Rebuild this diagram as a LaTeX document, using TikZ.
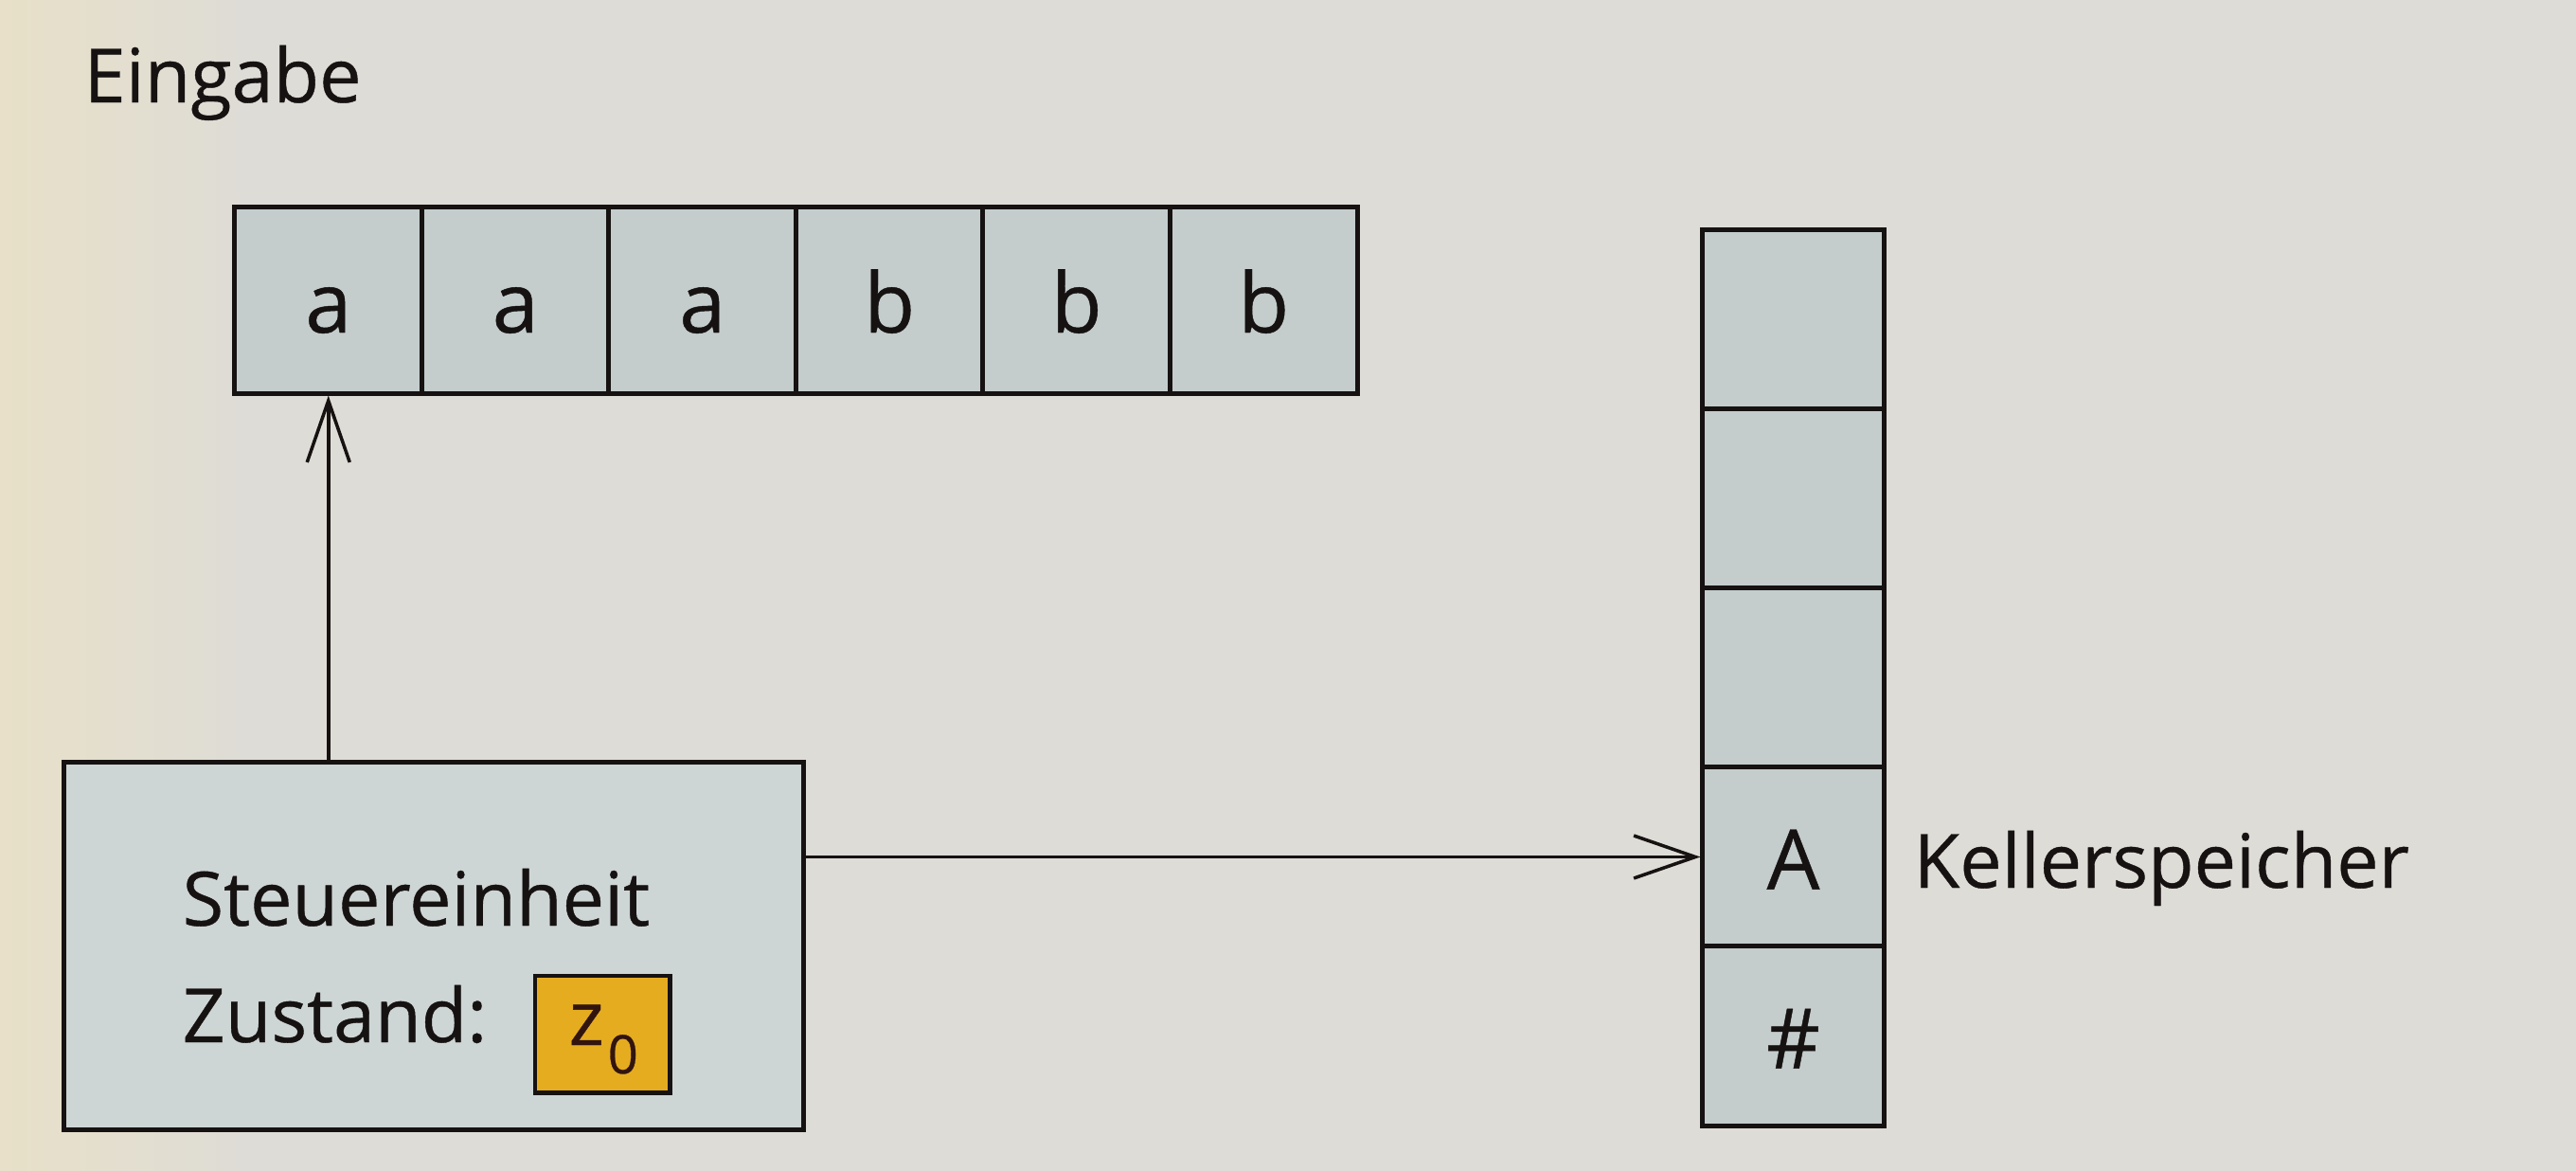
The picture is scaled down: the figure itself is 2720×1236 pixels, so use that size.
\documentclass[tikz,border=0pt]{standalone}
\usepackage{fontspec}
\setmainfont{Open Sans}[FakeBold=0.5]
\usetikzlibrary{arrows.meta}
\definecolor{paper}{RGB}{222,220,214}
\definecolor{paperleft}{RGB}{232,224,200}
\definecolor{cellfill}{RGB}{196,204,204}
\definecolor{unitfill}{RGB}{206,213,213}
\definecolor{stateyel}{RGB}{229,172,32}
\definecolor{ink}{RGB}{22,18,18}
\definecolor{zink}{RGB}{50,20,15}
\tikzset{
  cellbox/.style={draw=ink, fill=cellfill, line width=1.4pt, inner sep=0pt,
    text height=6.8mm, text depth=0pt, text=ink, font=\fontsize{25}{25}\selectfont},
  lbl/.style={inner sep=0pt, text=ink, font=\fontsize{22.5}{22.5}\selectfont},
  conn/.style={draw=ink, line width=1pt, -{Straight Barb[length=6.5mm,width=4.5mm,line width=1pt]}},
}
\begin{document}
\begin{tikzpicture}[x=0.01cm,y=-0.01cm]
\useasboundingbox (0,0) rectangle (2720,1236);
\fill[paper] (0,0) rectangle (2720,1236);
\shade[left color=paperleft, right color=paper] (0,0) rectangle (260,1236);

% title
\node[lbl, anchor=base west] (eingabe) at (88,108) {Eingabe};

% input tape
\foreach \i/\t in {1/a,2/a,3/a,4/b,5/b,6/b}
  \node[cellbox, minimum width=1.975cm, minimum height=1.96cm] (c\i) at ({248+197.5*(\i-0.5)},317) {\t};

% stack
\foreach \i/\t in {1/{},2/{},3/{},4/A,5/\#}
  \node[cellbox, minimum width=1.91cm, minimum height=1.89cm] (s\i) at (1893.5,{243+189*(\i-0.5)}) {\t};
\node[lbl, anchor=base west] (keller) at (2020,937) {Kellerspeicher};

% control unit
\node[draw=ink, fill=unitfill, line width=1.4pt, minimum width=7.8cm, minimum height=3.87cm, inner sep=0pt] (cu) at (458,998.5) {};
\node[lbl, anchor=base west] (steuer) at (192,977) {Steuereinheit};
\node[lbl, anchor=base west] (zustand) at (192,1100) {Zustand:};
\node[draw=ink, fill=stateyel, line width=1.4pt, minimum width=1.42cm, minimum height=1.23cm, inner sep=0pt] (z0) at (636,1091.5) {};
\node[lbl, text=zink, anchor=base west] (zsym) at (600,1103) {z};
\node[inner sep=0pt, text=zink, anchor=base west, font=\fontsize{16}{16}\selectfont] (zsub) at (641,1133) {0};

% connectors
\draw[conn] (cu.north -| c1.south) -- (c1.south);
\draw[conn] (s4.west -| cu.east) -- (s4.west);
\end{tikzpicture}
\end{document}
